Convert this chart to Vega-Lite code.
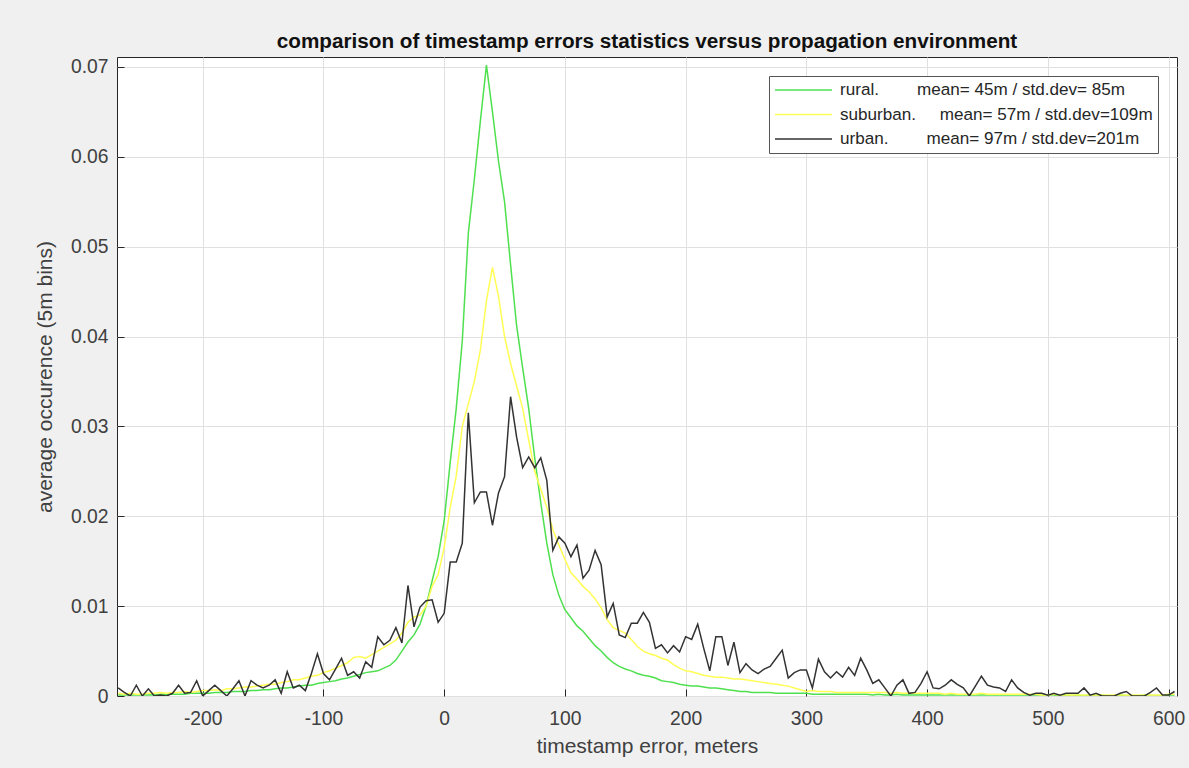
{
 "$schema": "https://vega.github.io/schema/vega-lite/v6.json",
 "width": 1060,
 "height": 639,
 "autosize": {"type": "none"},
 "padding": {"left": 117, "top": 57, "right": 12, "bottom": 72},
 "background": "#f0f0f0",
 "title": {"text": "comparison of timestamp errors statistics versus propagation environment", "fontSize": 20.7, "fontWeight": "bold", "font": "Liberation Sans", "color": "#111111", "offset": 4, "anchor": "middle"},
 "data": {"values": [
{"x":-270,"rural":0.0001,"suburban":0.0003,"urban":0.0009},
{"x":-265,"rural":0.0001,"suburban":0.0002,"urban":0.0004},
{"x":-260,"rural":0.0001,"suburban":0.0003,"urban":0.0000},
{"x":-255,"rural":0.0001,"suburban":0.0002,"urban":0.0012},
{"x":-250,"rural":0.0001,"suburban":0.0002,"urban":0.0000},
{"x":-245,"rural":0.0001,"suburban":0.0003,"urban":0.0008},
{"x":-240,"rural":0.0001,"suburban":0.0003,"urban":0.0000},
{"x":-235,"rural":0.0002,"suburban":0.0004,"urban":0.0001},
{"x":-230,"rural":0.0002,"suburban":0.0003,"urban":0.0000},
{"x":-225,"rural":0.0002,"suburban":0.0004,"urban":0.0003},
{"x":-220,"rural":0.0002,"suburban":0.0004,"urban":0.0012},
{"x":-215,"rural":0.0002,"suburban":0.0005,"urban":0.0003},
{"x":-210,"rural":0.0003,"suburban":0.0004,"urban":0.0004},
{"x":-205,"rural":0.0003,"suburban":0.0005,"urban":0.0017},
{"x":-200,"rural":0.0003,"suburban":0.0006,"urban":0.0000},
{"x":-195,"rural":0.0003,"suburban":0.0006,"urban":0.0006},
{"x":-190,"rural":0.0004,"suburban":0.0007,"urban":0.0012},
{"x":-185,"rural":0.0004,"suburban":0.0006,"urban":0.0006},
{"x":-180,"rural":0.0004,"suburban":0.0008,"urban":0.0000},
{"x":-175,"rural":0.0005,"suburban":0.0008,"urban":0.0008},
{"x":-170,"rural":0.0005,"suburban":0.0009,"urban":0.0017},
{"x":-165,"rural":0.0005,"suburban":0.0010,"urban":0.0000},
{"x":-160,"rural":0.0006,"suburban":0.0010,"urban":0.0017},
{"x":-155,"rural":0.0006,"suburban":0.0011,"urban":0.0012},
{"x":-150,"rural":0.0007,"suburban":0.0012,"urban":0.0009},
{"x":-145,"rural":0.0007,"suburban":0.0013,"urban":0.0012},
{"x":-140,"rural":0.0008,"suburban":0.0013,"urban":0.0018},
{"x":-135,"rural":0.0009,"suburban":0.0015,"urban":0.0003},
{"x":-130,"rural":0.0009,"suburban":0.0016,"urban":0.0027},
{"x":-125,"rural":0.0010,"suburban":0.0018,"urban":0.0009},
{"x":-120,"rural":0.0011,"suburban":0.0018,"urban":0.0012},
{"x":-115,"rural":0.0012,"suburban":0.0020,"urban":0.0006},
{"x":-110,"rural":0.0012,"suburban":0.0022,"urban":0.0025},
{"x":-105,"rural":0.0014,"suburban":0.0023,"urban":0.0047},
{"x":-100,"rural":0.0015,"suburban":0.0026,"urban":0.0025},
{"x":-95,"rural":0.0016,"suburban":0.0028,"urban":0.0018},
{"x":-90,"rural":0.0017,"suburban":0.0031,"urban":0.0030},
{"x":-85,"rural":0.0019,"suburban":0.0034,"urban":0.0042},
{"x":-80,"rural":0.0020,"suburban":0.0037,"urban":0.0023},
{"x":-75,"rural":0.0022,"suburban":0.0043,"urban":0.0027},
{"x":-70,"rural":0.0024,"suburban":0.0044,"urban":0.0020},
{"x":-65,"rural":0.0026,"suburban":0.0042,"urban":0.0038},
{"x":-60,"rural":0.0027,"suburban":0.0046,"urban":0.0032},
{"x":-55,"rural":0.0028,"suburban":0.0050,"urban":0.0066},
{"x":-50,"rural":0.0031,"suburban":0.0054,"urban":0.0057},
{"x":-45,"rural":0.0034,"suburban":0.0058,"urban":0.0062},
{"x":-40,"rural":0.0040,"suburban":0.0062,"urban":0.0076},
{"x":-35,"rural":0.0050,"suburban":0.0070,"urban":0.0059},
{"x":-30,"rural":0.0060,"suburban":0.0082,"urban":0.0123},
{"x":-25,"rural":0.0068,"suburban":0.0088,"urban":0.0077},
{"x":-20,"rural":0.0080,"suburban":0.0090,"urban":0.0099},
{"x":-15,"rural":0.0100,"suburban":0.0100,"urban":0.0106},
{"x":-10,"rural":0.0128,"suburban":0.0122,"urban":0.0107},
{"x":-5,"rural":0.0155,"suburban":0.0135,"urban":0.0082},
{"x":0,"rural":0.0195,"suburban":0.0165,"urban":0.0092},
{"x":5,"rural":0.0260,"suburban":0.0210,"urban":0.0149},
{"x":10,"rural":0.0320,"suburban":0.0245,"urban":0.0149},
{"x":15,"rural":0.0395,"suburban":0.0300,"urban":0.0170},
{"x":20,"rural":0.0515,"suburban":0.0325,"urban":0.0315},
{"x":25,"rural":0.0575,"suburban":0.0350,"urban":0.0215},
{"x":30,"rural":0.0640,"suburban":0.0385,"urban":0.0227},
{"x":35,"rural":0.0702,"suburban":0.0440,"urban":0.0227},
{"x":40,"rural":0.0650,"suburban":0.0477,"urban":0.0190},
{"x":45,"rural":0.0595,"suburban":0.0445,"urban":0.0226},
{"x":50,"rural":0.0550,"suburban":0.0400,"urban":0.0244},
{"x":55,"rural":0.0480,"suburban":0.0370,"urban":0.0333},
{"x":60,"rural":0.0412,"suburban":0.0345,"urban":0.0288},
{"x":65,"rural":0.0365,"suburban":0.0320,"urban":0.0254},
{"x":70,"rural":0.0320,"suburban":0.0285,"urban":0.0266},
{"x":75,"rural":0.0265,"suburban":0.0250,"urban":0.0254},
{"x":80,"rural":0.0215,"suburban":0.0230,"urban":0.0265},
{"x":85,"rural":0.0170,"suburban":0.0210,"urban":0.0240},
{"x":90,"rural":0.0135,"suburban":0.0185,"urban":0.0162},
{"x":95,"rural":0.0112,"suburban":0.0168,"urban":0.0177},
{"x":100,"rural":0.0096,"suburban":0.0152,"urban":0.0170},
{"x":105,"rural":0.0087,"suburban":0.0137,"urban":0.0155},
{"x":110,"rural":0.0078,"suburban":0.0130,"urban":0.0168},
{"x":115,"rural":0.0072,"suburban":0.0122,"urban":0.0131},
{"x":120,"rural":0.0064,"suburban":0.0116,"urban":0.0140},
{"x":125,"rural":0.0056,"suburban":0.0108,"urban":0.0162},
{"x":130,"rural":0.0050,"suburban":0.0098,"urban":0.0146},
{"x":135,"rural":0.0043,"suburban":0.0085,"urban":0.0088},
{"x":140,"rural":0.0037,"suburban":0.0076,"urban":0.0103},
{"x":145,"rural":0.0033,"suburban":0.0073,"urban":0.0068},
{"x":150,"rural":0.0030,"suburban":0.0070,"urban":0.0065},
{"x":155,"rural":0.0028,"suburban":0.0063,"urban":0.0081},
{"x":160,"rural":0.0025,"suburban":0.0055,"urban":0.0081},
{"x":165,"rural":0.0023,"suburban":0.0050,"urban":0.0093},
{"x":170,"rural":0.0022,"suburban":0.0047,"urban":0.0082},
{"x":175,"rural":0.0020,"suburban":0.0045,"urban":0.0053},
{"x":180,"rural":0.0017,"suburban":0.0042,"urban":0.0057},
{"x":185,"rural":0.0016,"suburban":0.0040,"urban":0.0048},
{"x":190,"rural":0.0015,"suburban":0.0035,"urban":0.0056},
{"x":195,"rural":0.0013,"suburban":0.0031,"urban":0.0049},
{"x":200,"rural":0.0012,"suburban":0.0028,"urban":0.0066},
{"x":205,"rural":0.0011,"suburban":0.0027,"urban":0.0063},
{"x":210,"rural":0.0011,"suburban":0.0025,"urban":0.0080},
{"x":215,"rural":0.0010,"suburban":0.0023,"urban":0.0053},
{"x":220,"rural":0.0009,"suburban":0.0022,"urban":0.0028},
{"x":225,"rural":0.0009,"suburban":0.0021,"urban":0.0066},
{"x":230,"rural":0.0008,"suburban":0.0021,"urban":0.0066},
{"x":235,"rural":0.0007,"suburban":0.0020,"urban":0.0034},
{"x":240,"rural":0.0006,"suburban":0.0019,"urban":0.0060},
{"x":245,"rural":0.0005,"suburban":0.0019,"urban":0.0026},
{"x":250,"rural":0.0005,"suburban":0.0018,"urban":0.0036},
{"x":255,"rural":0.0004,"suburban":0.0017,"urban":0.0029},
{"x":260,"rural":0.0004,"suburban":0.0016,"urban":0.0025},
{"x":265,"rural":0.0004,"suburban":0.0015,"urban":0.0030},
{"x":270,"rural":0.0004,"suburban":0.0014,"urban":0.0033},
{"x":275,"rural":0.0003,"suburban":0.0013,"urban":0.0042},
{"x":280,"rural":0.0003,"suburban":0.0012,"urban":0.0051},
{"x":285,"rural":0.0003,"suburban":0.0011,"urban":0.0020},
{"x":290,"rural":0.0003,"suburban":0.0009,"urban":0.0026},
{"x":295,"rural":0.0003,"suburban":0.0007,"urban":0.0029},
{"x":300,"rural":0.0003,"suburban":0.0005,"urban":0.0029},
{"x":305,"rural":0.0002,"suburban":0.0006,"urban":0.0009},
{"x":310,"rural":0.0002,"suburban":0.0005,"urban":0.0041},
{"x":315,"rural":0.0002,"suburban":0.0005,"urban":0.0027},
{"x":320,"rural":0.0002,"suburban":0.0005,"urban":0.0020},
{"x":325,"rural":0.0002,"suburban":0.0004,"urban":0.0027},
{"x":330,"rural":0.0002,"suburban":0.0004,"urban":0.0021},
{"x":335,"rural":0.0002,"suburban":0.0004,"urban":0.0032},
{"x":340,"rural":0.0002,"suburban":0.0004,"urban":0.0023},
{"x":345,"rural":0.0002,"suburban":0.0004,"urban":0.0042},
{"x":350,"rural":0.0002,"suburban":0.0004,"urban":0.0029},
{"x":355,"rural":0.0001,"suburban":0.0004,"urban":0.0014},
{"x":360,"rural":0.0002,"suburban":0.0004,"urban":0.0018},
{"x":365,"rural":0.0001,"suburban":0.0004,"urban":0.0009},
{"x":370,"rural":0.0001,"suburban":0.0003,"urban":0.0000},
{"x":375,"rural":0.0002,"suburban":0.0004,"urban":0.0012},
{"x":380,"rural":0.0001,"suburban":0.0003,"urban":0.0018},
{"x":385,"rural":0.0001,"suburban":0.0003,"urban":0.0003},
{"x":390,"rural":0.0001,"suburban":0.0003,"urban":0.0004},
{"x":395,"rural":0.0001,"suburban":0.0003,"urban":0.0014},
{"x":400,"rural":0.0001,"suburban":0.0003,"urban":0.0027},
{"x":405,"rural":0.0001,"suburban":0.0003,"urban":0.0009},
{"x":410,"rural":0.0001,"suburban":0.0003,"urban":0.0008},
{"x":415,"rural":0.0001,"suburban":0.0002,"urban":0.0012},
{"x":420,"rural":0.0001,"suburban":0.0003,"urban":0.0018},
{"x":425,"rural":0.0001,"suburban":0.0002,"urban":0.0013},
{"x":430,"rural":0.0001,"suburban":0.0002,"urban":0.0009},
{"x":435,"rural":0.0001,"suburban":0.0002,"urban":0.0000},
{"x":440,"rural":0.0001,"suburban":0.0002,"urban":0.0011},
{"x":445,"rural":0.0001,"suburban":0.0003,"urban":0.0022},
{"x":450,"rural":0.0001,"suburban":0.0002,"urban":0.0012},
{"x":455,"rural":0.0001,"suburban":0.0002,"urban":0.0010},
{"x":460,"rural":0.0001,"suburban":0.0002,"urban":0.0009},
{"x":465,"rural":0.0001,"suburban":0.0002,"urban":0.0005},
{"x":470,"rural":0.0001,"suburban":0.0002,"urban":0.0018},
{"x":475,"rural":0.0001,"suburban":0.0002,"urban":0.0009},
{"x":480,"rural":0.0001,"suburban":0.0002,"urban":0.0004},
{"x":485,"rural":0.0001,"suburban":0.0002,"urban":0.0001},
{"x":490,"rural":0.0001,"suburban":0.0002,"urban":0.0003},
{"x":495,"rural":0.0001,"suburban":0.0001,"urban":0.0003},
{"x":500,"rural":0.0001,"suburban":0.0001,"urban":0.0001},
{"x":505,"rural":0.0001,"suburban":0.0002,"urban":0.0003},
{"x":510,"rural":0.0000,"suburban":0.0001,"urban":0.0001},
{"x":515,"rural":0.0001,"suburban":0.0001,"urban":0.0003},
{"x":520,"rural":0.0000,"suburban":0.0001,"urban":0.0003},
{"x":525,"rural":0.0001,"suburban":0.0001,"urban":0.0003},
{"x":530,"rural":0.0000,"suburban":0.0001,"urban":0.0009},
{"x":535,"rural":0.0001,"suburban":0.0001,"urban":0.0001},
{"x":540,"rural":0.0000,"suburban":0.0001,"urban":0.0003},
{"x":545,"rural":0.0001,"suburban":0.0001,"urban":0.0000},
{"x":550,"rural":0.0000,"suburban":0.0001,"urban":0.0000},
{"x":555,"rural":0.0000,"suburban":0.0001,"urban":0.0000},
{"x":560,"rural":0.0001,"suburban":0.0001,"urban":0.0003},
{"x":565,"rural":0.0000,"suburban":0.0001,"urban":0.0005},
{"x":570,"rural":0.0000,"suburban":0.0001,"urban":0.0000},
{"x":575,"rural":0.0000,"suburban":0.0001,"urban":0.0000},
{"x":580,"rural":0.0001,"suburban":0.0001,"urban":0.0000},
{"x":585,"rural":0.0000,"suburban":0.0001,"urban":0.0004},
{"x":590,"rural":0.0000,"suburban":0.0001,"urban":0.0009},
{"x":595,"rural":0.0000,"suburban":0.0001,"urban":0.0001},
{"x":600,"rural":0.0001,"suburban":0.0002,"urban":0.0001},
{"x":605,"rural":0.0001,"suburban":0.0002,"urban":0.0005}
 ]},
 "transform": [{"fold": ["rural", "suburban", "urban"], "as": ["env", "value"]}],
 "mark": {"type": "line", "strokeWidth": 1.5, "clip": true},
 "encoding": {
  "x": {"field": "x", "type": "quantitative",
   "scale": {"domain": [-271, 607], "nice": false, "zero": false},
   "axis": {"values": [-200, -100, 0, 100, 200, 300, 400, 500, 600], "labelExpr": "(datum.value < 0 ? '-' : '') + abs(datum.value)",
    "grid": true, "gridColor": "#e0e0e0", "domain": false,
    "tickSize": -7, "tickColor": "#262626", "labelFontSize": 19.3, "labelColor": "#404040", "labelFont": "Liberation Sans", "labelPadding": 20,
    "title": "timestamp error, meters", "titleFontSize": 21, "titleFontWeight": "normal", "titleColor": "#404040", "titleFont": "Liberation Sans", "titlePadding": 7}},
  "y": {"field": "value", "type": "quantitative",
   "scale": {"domain": [0, 0.0711], "nice": false},
   "axis": {"values": [0, 0.01, 0.02, 0.03, 0.04, 0.05, 0.06, 0.07], "format": "~g", "grid": true, "gridColor": "#e0e0e0", "domain": false,
    "tickSize": -7, "tickColor": "#262626", "labelFontSize": 19.3, "labelColor": "#404040", "labelFont": "Liberation Sans", "labelPadding": 16,
    "title": "average occurence (5m bins)", "titleFontSize": 21, "titleFontWeight": "normal", "titleColor": "#404040", "titleFont": "Liberation Sans", "titlePadding": 15}},
  "color": {"field": "env", "type": "nominal",
   "scale": {"domain": ["rural", "suburban", "urban"], "range": ["#4fe04f", "#ffff55", "#333333"]},
   "legend": {"orient": "top-right", "offset": 19, "title": null,
    "labelExpr": "datum.label == 'rural' ? 'rural.\u00a0\u00a0\u00a0\u00a0\u00a0\u00a0\u00a0\u00a0mean= 45m / std.dev= 85m' : datum.label == 'suburban' ? 'suburban.\u00a0\u00a0\u00a0\u00a0\u00a0mean= 57m / std.dev=109m' : 'urban.\u00a0\u00a0\u00a0\u00a0\u00a0\u00a0\u00a0\u00a0mean= 97m / std.dev=201m'",
    "labelFontSize": 17.1, "labelColor": "#262626", "labelFont": "Liberation Sans", "labelLimit": 0,
    "symbolType": "M-1,0H6.125", "symbolSize": 256, "symbolStrokeWidth": 1.5, "labelOffset": 48,
    "strokeColor": "#555555", "fillColor": "white", "padding": 5, "rowPadding": 6.5}}
 },
 "config": {"view": {"fill": "white", "stroke": "#262626", "strokeWidth": 1}, "font": "Liberation Sans"}
}
